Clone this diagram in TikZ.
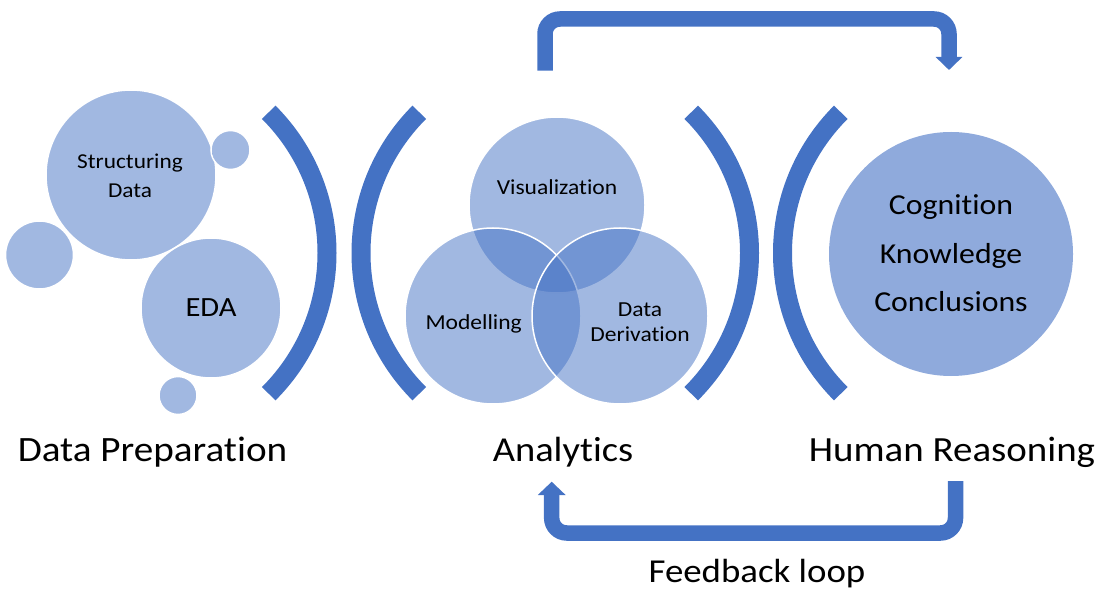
\documentclass[tikz,border=0pt]{standalone}
\usepackage{fontspec}
\setmainfont{Carlito}[FakeStretch=1.1, Ligatures=NoCommon]
\usetikzlibrary{arrows.meta}
\definecolor{acc}{HTML}{4472C4}
\definecolor{bigc}{HTML}{8FAADC}
\begin{document}
\begin{tikzpicture}[x=1pt,y=-1pt,
  soft/.style={circle, fill=acc, fill opacity=0.5, draw=white, line width=1.5pt, inner sep=0pt, minimum size=#1},
  bigcirc/.style={circle, fill=bigc, inner sep=0pt, minimum size=#1},
  bracket/.style={draw=acc, line width=19pt},
  flow/.style={draw=acc, line width=15.5pt, rounded corners=15pt},
  lbl/.style={anchor=base, text=black, inner sep=0pt, font=\fontsize{#1}{#1}\selectfont}]
\useasboundingbox (0,0) rectangle (1105,593);

% left group
\node[soft=170pt] (sd) at (131,175) {};
\node[soft=39pt] (s1) at (230.5,150) {};
\node[soft=140pt] (eda) at (211,308) {};
\node[soft=68pt] (s2) at (39.5,255) {};
\node[soft=38pt] (s3) at (178,395.5) {};
\node[lbl=21.2] (sdt1) at (130,168.3) {Structuring};
\node[lbl=21.2] (sdt2) at (130,197.3) {Data};
\node[lbl=27.8] (edat) at (211,316.7) {EDA};

% brackets
\draw[bracket] ([shift={(-45:199)}]128,253) arc (-45:45:199);
\draw[bracket] ([shift={(135:199)}]560,253) arc (135:225:199);
\draw[bracket] ([shift={(-45:199)}]550.5,253) arc (-45:45:199);
\draw[bracket] ([shift={(135:199)}]981.5,253) arc (135:225:199);

% venn
\node[soft=176pt] (vis) at (557,205) {};
\node[soft=176pt] (mod) at (493,316) {};
\node[soft=176pt] (dd) at (620,316) {};
\node[lbl=21.4] (vist) at (557,195) {Visualization};
\node[lbl=21.4] (modt) at (473.7,330) {Modelling};
\node[lbl=21.4] (ddt1) at (640,316.7) {Data};
\node[lbl=21.4] (ddt2) at (640,341.7) {Derivation};

% human reasoning
\node[bigcirc=244pt] (hr) at (951,254) {};
\node[lbl=28.9] (hrt1) at (951,215) {Cognition};
\node[lbl=28.9] (hrt2) at (951,263.3) {Knowledge};
\node[lbl=28.9] (hrt3) at (951,311.7) {Conclusions};

% labels
\node[lbl=35.6] (dp) at (152.5,461.5) {Data Preparation};
\node[lbl=35] (an) at (563,461.5) {Analytics};
\node[lbl=35.4] (hrl) at (952,461.5) {Human Reasoning};
\node[lbl=33.5] (fb) at (757,582) {Feedback loop};

% arrows
\coordinate (ta) at (545,70.7);
\coordinate (tb) at (949,70);
\draw[flow, -{Triangle[length=13pt,width=26pt]}] (ta) -- (545,19) -- (949,19) -- (tb);
\coordinate (ba) at (955.5,481);
\coordinate (bb) at (551.7,481.7);
\draw[flow, -{Triangle[length=13.3pt,width=27pt]}] (ba) -- (955.5,533) -- (551.7,533) -- (bb);
\end{tikzpicture}
\end{document}
